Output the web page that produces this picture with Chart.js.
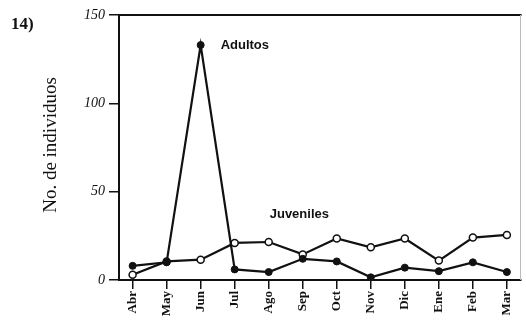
<!DOCTYPE html>
<html>
<head>
<meta charset="utf-8">
<script src="https://cdn.jsdelivr.net/npm/chart.js@4/dist/chart.umd.min.js"></script>
<style>
  html, body { margin: 0; padding: 0; background: #fff; }
  #wrap { width: 526px; height: 324px; }
</style>
</head>
<body>
<div id="wrap"><canvas id="c" width="526" height="324"></canvas></div>
<script>
// Monthly counts, April through March
const months = ['Abr', 'May', 'Jun', 'Jul', 'Ago', 'Sep', 'Oct', 'Nov', 'Dic', 'Ene', 'Feb', 'Mar'];
const adultos = [8, 10, 133, 6, 4.5, 12, 10.5, 1.5, 7, 5, 10, 4.5];
const juveniles = [3, 10.5, 11.5, 21, 21.5, 14.5, 23.5, 18.5, 23.5, 11, 24, 25.5];
const yTicks = [0, 50, 100, 150];

const toPoints = arr => arr.map((v, i) => ({ x: i, y: v }));

const serif = '"Liberation Serif", "Times New Roman", serif';
const sans = '"Liberation Sans", Arial, sans-serif';

// Frame, panel number, y-axis title and series labels
const decorations = {
  id: 'decorations',
  beforeDatasetsDraw(chart) {
    const { ctx, chartArea: a } = chart;
    ctx.save();
    ctx.strokeStyle = '#111';
    ctx.lineWidth = 2;
    ctx.beginPath();
    ctx.moveTo(a.left, a.top);
    ctx.lineTo(a.right + 1, a.top);
    ctx.stroke();
    ctx.strokeStyle = '#bbb';
    ctx.lineWidth = 1;
    ctx.beginPath();
    ctx.moveTo(a.right, a.top);
    ctx.lineTo(a.right, a.bottom);
    ctx.stroke();
    ctx.restore();
  },
  afterDraw(chart) {
    const { ctx, scales } = chart;
    ctx.save();
    ctx.fillStyle = '#111';
    ctx.font = 'bold 17px ' + serif;
    ctx.textBaseline = 'alphabetic';
    ctx.fillText('14)', 11, 29);

    ctx.save();
    ctx.translate(56, 145);
    ctx.rotate(-Math.PI / 2);
    ctx.font = '19px ' + serif;
    ctx.textAlign = 'center';
    ctx.textBaseline = 'alphabetic';
    ctx.fillText('No. de individuos', 0, 0);
    ctx.restore();

    ctx.font = 'bold 13px ' + sans;
    ctx.textAlign = 'left';
    ctx.textBaseline = 'middle';
    const ax = scales.x.getPixelForValue(2), ay = scales.y.getPixelForValue(adultos[2]);
    ctx.fillText('Adultos', ax + 20, ay);
    const jx = scales.x.getPixelForValue(4), jy = scales.y.getPixelForValue(37);
    ctx.fillText('Juveniles', jx + 1, jy);
    ctx.restore();
  }
};

new Chart(document.getElementById('c'), {
  type: 'line',
  data: {
    datasets: [
      {
        label: 'Adultos',
        data: toPoints(adultos),
        borderColor: '#111',
        backgroundColor: '#111',
        borderWidth: 2.2,
        pointRadius: 3.5,
        pointBorderWidth: 1,
        pointBackgroundColor: '#111',
        pointBorderColor: '#111',
        tension: 0
      },
      {
        label: 'Juveniles',
        data: toPoints(juveniles),
        borderColor: '#111',
        backgroundColor: '#fff',
        borderWidth: 2.2,
        pointRadius: 3.5,
        pointBorderWidth: 1.5,
        pointBackgroundColor: '#fff',
        pointBorderColor: '#111',
        tension: 0
      }
    ]
  },
  options: {
    responsive: false,
    animation: false,
    devicePixelRatio: 1,
    layout: { padding: { top: 15, right: 1, bottom: 0, left: 0 } },
    plugins: { legend: { display: false }, tooltip: { enabled: false } },
    scales: {
      x: {
        type: 'linear',
        min: -0.4,
        max: 11.4,
        afterBuildTicks(scale) { scale.ticks = months.map((m, i) => ({ value: i })); },
        afterFit(scale) { scale.height = 44; },
        ticks: {
          callback: v => months[v],
          autoSkip: false,
          minRotation: 90,
          maxRotation: 90,
          padding: 2,
          color: '#111',
          font: { family: serif, size: 13, weight: 'bold' }
        },
        grid: { display: true, drawOnChartArea: false, drawTicks: true, tickLength: 9, color: '#111', lineWidth: 1.5 },
        border: { display: true, color: '#111', width: 2 }
      },
      y: {
        min: 0,
        max: 150,
        afterBuildTicks(scale) { scale.ticks = yTicks.map(v => ({ value: v })); },
        afterFit(scale) { scale.width = 119; },
        ticks: {
          color: '#111',
          padding: 4,
          font: { family: serif, size: 14, style: 'italic' }
        },
        grid: { display: true, drawOnChartArea: false, drawTicks: true, tickLength: 10, color: '#111', lineWidth: 1.5 },
        border: { display: true, color: '#111', width: 2 }
      }
    }
  },
  plugins: [decorations]
});
</script>
</body>
</html>
